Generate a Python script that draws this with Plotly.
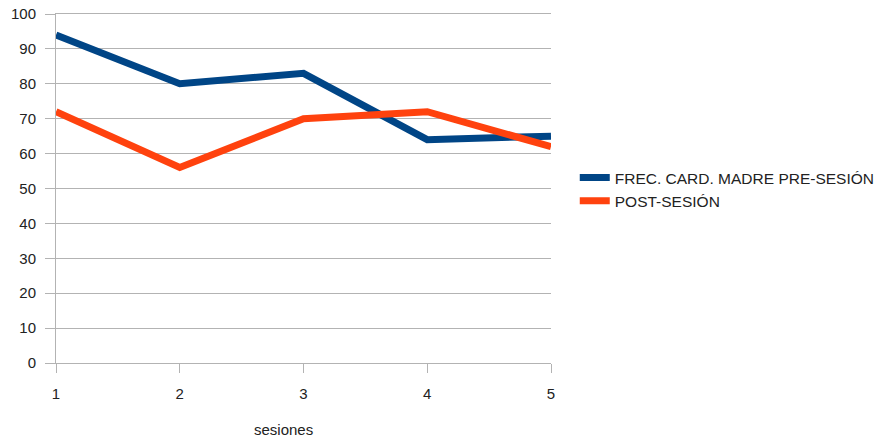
import plotly.graph_objects as go

# Sessions and heart-rate readings
sesiones = [1, 2, 3, 4, 5]
pre_sesion = [94, 80, 83, 64, 65]
post_sesion = [72, 56, 70, 72, 62]

serie_pre = "FREC. CARD. MADRE PRE-SESIÓN"
serie_post = "POST-SESIÓN"

grid = "#b3b3b3"
font_family = "Liberation Sans, Arial, sans-serif"

fig = go.Figure()
fig.add_trace(go.Scatter(x=sesiones, y=pre_sesion, mode="lines", name=serie_pre,
                         line=dict(color="#004586", width=7)))
fig.add_trace(go.Scatter(x=sesiones, y=post_sesion, mode="lines", name=serie_post,
                         line=dict(color="#ff420e", width=7)))

fig.update_layout(
    width=881, height=441,
    margin=dict(l=56, r=330, t=14, b=78, autoexpand=False),
    paper_bgcolor="white", plot_bgcolor="white",
    font=dict(family=font_family, size=15, color="#222222"),
    showlegend=True,
    legend=dict(x=1.048, y=0.497, xanchor="left", yanchor="middle",
                font=dict(size=15.5, color="#222222"), itemwidth=30,
                tracegroupgap=0, bgcolor="rgba(0,0,0,0)"),
)
fig.update_xaxes(range=[1, 5], tickvals=sesiones, showgrid=False,
                 showline=True, linecolor=grid, linewidth=1, mirror=True,
                 ticks="outside", ticklen=9, tickcolor=grid, zeroline=False,
                 ticklabelstandoff=8, automargin=False)
fig.update_yaxes(range=[0, 100], dtick=10, showgrid=True, gridcolor=grid,
                 gridwidth=1, showline=True, linecolor=grid, linewidth=1,
                 ticks="outside", ticklen=10, tickcolor=grid, zeroline=False,
                 ticklabelstandoff=6, automargin=False)

fig.add_annotation(text="sesiones", xref="paper", yref="paper", x=0.46, y=-0.19,
                   xanchor="center", yanchor="middle", showarrow=False,
                   font=dict(size=15, color="#222222"))

fig.write_html("out.html")
